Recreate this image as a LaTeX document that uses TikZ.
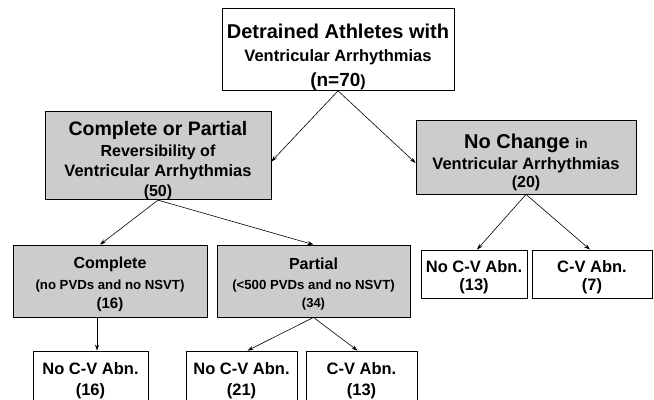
\documentclass[tikz,border=0pt]{standalone}
\usepackage{fontspec}
\setmainfont{Liberation Sans}
\usetikzlibrary{arrows.meta}
\newcommand{\fsz}[1]{\fontsize{#1bp}{#1bp}\selectfont}
\newcommand{\pushdown}[1]{\rule{0pt}{#1bp}}

\begin{document}
\begin{tikzpicture}[x=1bp, y=-1bp,
  box/.style={draw=black, line width=0.8bp, fill=white, align=center, font=\bfseries, inner sep=0pt},
  shaded/.style={box, fill=black!20},
  link/.style={-{Stealth[length=6bp,width=4bp]}, line width=0.6bp}]
   \useasboundingbox (0,0) rectangle (654,399);
   \clip (0,0) rectangle (654,399);

   % first level
   \node[box, minimum width=232bp, minimum height=79bp] (top) at (338,49.5)
     {\fsz{20}\pushdown{29.6}Detrained Athletes with\\[10bp]\fsz{16.5}Ventricular Arrhythmias\\[7bp]\fsz{19}(n=70{\fsz{16})}};

   % second level
   \node[shaded, minimum width=226bp, minimum height=85bp] (rev) at (158,155.5)
     {\fsz{19.5}\pushdown{24.2}Complete or Partial\\[4bp]\fsz{16}Reversibility of\\[4bp]\fsz{16.5}Ventricular Arrhythmias\\[4bp]\fsz{16}(50)};
   \node[shaded, minimum width=220bp, minimum height=74bp] (nochg) at (526,157)
     {\fsz{20}\pushdown{24.6}No Change {\fsz{14}in}\\[4bp]\fsz{16.5}Ventricular Arrhythmias\\[2bp]\fsz{16}(20)};

   % third level
   \node[shaded, minimum width=194bp, minimum height=72bp] (comp) at (110,281)
     {\fsz{16}\pushdown{17.7}Complete\\[8bp]\fsz{13.2}(no PVDs and no NSVT)\\[4bp]\fsz{15}(16)};
   \node[shaded, minimum width=193bp, minimum height=72bp] (part) at (313.5,281)
     {\fsz{16}\pushdown{17.7}Partial\\[8bp]\fsz{13.2}(<500 PVDs and no NSVT)\\[4bp]\fsz{13}(34)};
   \node[box, minimum width=106bp, minimum height=48bp] (nocva) at (474,274)
     {\fsz{16.5}\pushdown{19}No C-V Abn.\\[5bp]\fsz{16.5}(13)};
   \node[box, minimum width=120bp, minimum height=48bp] (cva) at (592,274)
     {\fsz{16.5}\pushdown{19}C-V Abn.\\[5bp]\fsz{16.5}(7)};

   % bottom level (cut off by the page edge)
   \node[box, minimum width=115bp, minimum height=60bp] (nocvb) at (90.5,381)
     {\fsz{16.5}No C-V Abn.\\[8bp]\fsz{16.5}(16)};
   \node[box, minimum width=111bp, minimum height=60bp] (nocvc) at (241.5,381)
     {\fsz{16.5}No C-V Abn.\\[8bp]\fsz{16.5}(21)};
   \node[box, minimum width=111bp, minimum height=60bp] (cvc) at (361.5,381)
     {\fsz{16.5}C-V Abn.\\[8bp]\fsz{16.5}(13)};

   \draw[link] (top.south) -- ([yshift=-6bp]rev.east);
   \draw[link] (top.south) -- ([yshift=-6bp]nochg.west);
   \draw[link] (rev.south) -- ([xshift=-10bp]comp.north);
   \draw[link] (rev.south) -- (part.north);
   \draw[link] ([xshift=-13bp]comp.south) -- ([xshift=-13bp]comp.south |- nocvb.north);
   \draw[link] (part.south) -- ([xshift=6bp]nocvc.north);
   \draw[link] (part.south) -- ([xshift=-4bp]cvc.north);
   \draw[link] (nochg.south) -- ([xshift=3bp]nocva.north);
   \draw[link] (nochg.south) -- ([xshift=-2bp]cva.north);
\end{tikzpicture}
\end{document}
